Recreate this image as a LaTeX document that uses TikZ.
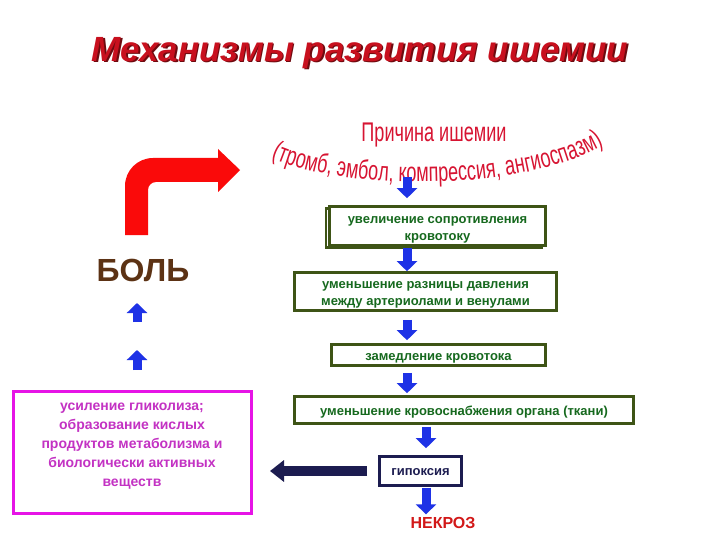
\documentclass[tikz,border=0pt]{standalone}
\usepackage{fontspec}
\setmainfont{Liberation Sans}
\newfontfamily\narrowfont[FakeStretch=0.67]{Liberation Sans}
\usetikzlibrary{arrows.meta,decorations.text,calc}
\definecolor{titlered}{RGB}{200,16,30}
\definecolor{titleshadow}{RGB}{110,10,15}
\definecolor{causered}{RGB}{215,20,50}
\definecolor{boxgreen}{RGB}{62,84,22}
\definecolor{txtgreen}{RGB}{22,105,30}
\definecolor{pinkline}{RGB}{230,20,230}
\definecolor{pinktext}{RGB}{195,50,195}
\definecolor{navy}{RGB}{28,28,80}
\definecolor{bluearrow}{RGB}{30,50,230}
\definecolor{painbrown}{RGB}{92,50,20}
\definecolor{bentred}{RGB}{250,10,10}
\definecolor{necred}{RGB}{210,24,24}
\begin{document}
\begin{tikzpicture}[x=1pt,y=-1pt,
  greenbox/.style={draw=boxgreen, line width=2.6pt, fill=white, inner sep=0pt},
  greentext/.style={text=txtgreen, font=\bfseries\fontsize{13}{17}\selectfont, align=center, inner sep=0pt},
  blockarrow/.style={draw=bluearrow, line width=9pt, -{Triangle[width=20pt,length=10pt]}},
  navyarrow/.style={draw=navy, line width=10pt, -{Triangle[width=21pt,length=14pt]}},
  plain/.style={inner sep=0pt, outer sep=0pt}]
\useasboundingbox (0,0) rectangle (720,540);
\fill[white] (0,0) rectangle (720,540);

% title
\node[plain, text=titleshadow, font=\bfseries\itshape\fontsize{35}{38}\selectfont] (titles) at (361.5,54.5) {Механизмы развития ишемии};
\node[plain, text=titlered, font=\bfseries\itshape\fontsize{35}{38}\selectfont] (title) at (360,53) {Механизмы развития ишемии};

% cause
\node[plain, text=causered, font=\narrowfont\fontsize{27}{28}\selectfont] (cause) at (434,135) {Причина ишемии};
\path[decorate, decoration={text along path, text align=center, text color=causered,
  text={|\narrowfont\fontsize{27}{28}\selectfont|(тромб, эмбол, компрессия, ангиоспазм)}}]
  (260,152) .. controls (330,194) and (540,194) .. (614,138);
\coordinate (causebot) at (407,177);

% green boxes
\node[greenbox, minimum width=216pt, minimum height=39pt] (box1s) at (434,228) {};
\node[greenbox, minimum width=216pt, minimum height=39pt] (box1) at (437.5,226) {};
\node[greentext] (box1t) at ($(box1)+(0,4)$) {увеличение сопротивления\\кровотоку};
\node[greenbox, minimum width=262pt, minimum height=38pt] (box2) at (425.5,291.5) {};
\node[greentext] (box2t) at ($(box2)+(0,3)$) {уменьшение разницы давления\\между артериолами и венулами};
\node[greenbox, minimum width=214pt, minimum height=21pt] (box3) at (438.5,355) {};
\node[greentext] (box3t) at ($(box3)+(0,3)$) {замедление кровотока};
\node[greenbox, minimum width=339pt, minimum height=27pt] (box4) at (464,410) {};
\node[greentext] (box4t) at ($(box4)+(0,2.5)$) {уменьшение кровоснабжения органа (ткани)};
\node[draw=navy, line width=2.6pt, fill=white, inner sep=0pt, minimum width=82pt, minimum height=29pt] (hyp) at (420.5,471) {};
\node[plain, text=navy, font=\bfseries\fontsize{13}{17}\selectfont] (hypt) at ($(hyp)+(0,1.5)$) {гипоксия};
\node[plain, text=necred, font=\bfseries\fontsize{16}{18}\selectfont] (necr) at (443,523) {НЕКРОЗ};

% left side
\node[plain, text=painbrown, font=\bfseries\fontsize{32}{36}\selectfont] (pain) at (143,270) {БОЛЬ};
\node[draw=pinkline, line width=3pt, fill=white, minimum width=238pt, minimum height=122pt] (pinkbox) at (132.5,452.5) {};
\node[plain, text=pinktext, align=center, font=\bfseries\fontsize{14}{19}\selectfont] (pinktxt) at (132,446)
  {усиление гликолиза;\\образование кислых\\продуктов метаболизма и\\биологически активных\\веществ};

% red bent arrow
\fill[bentred] (125,235) -- (125,186) .. controls (125,170.5) and (137.5,158) .. (153,158)
  -- (218,158) -- (218,149) -- (240,170) -- (218,192) -- (218,182) -- (156,182)
  .. controls (151.6,182) and (148,185.6) .. (148,190) -- (148,235) -- cycle;

% down arrows
\coordinate (ax) at (407,0);
\coordinate (bx) at (426,0);
\draw[blockarrow, shorten >=7pt] (causebot) -- (box1.north -| ax);
\draw[blockarrow, shorten <=1pt] (box1.south -| ax) -- (box2.north -| ax);
\draw[blockarrow, shorten <=8pt, shorten >=3pt] (box2.south -| ax) -- (box3.north -| ax);
\draw[blockarrow, shorten <=6pt, shorten >=2pt] (box3.south -| ax) -- (box4.north -| ax);
\draw[blockarrow, shorten <=2pt, shorten >=7pt] (box4.south -| bx) -- (hyp.north -| bx);
\draw[blockarrow, shorten <=1pt, shorten >=3pt] (hyp.south -| bx) -- (necr.north -| bx);

% up arrows to pain
\coordinate (u1a) at (137,370);
\coordinate (u1b) at (137,350);
\coordinate (u2a) at (137,322);
\coordinate (u2b) at (137,303);
\draw[blockarrow] (u1a) -- (u1b);
\draw[blockarrow] (u2a) -- (u2b);

% hypoxia to left box
\draw[navyarrow, shorten <=11pt, shorten >=17pt] (hyp.west) -- (hyp.west -| pinkbox.east);
\end{tikzpicture}
\end{document}
